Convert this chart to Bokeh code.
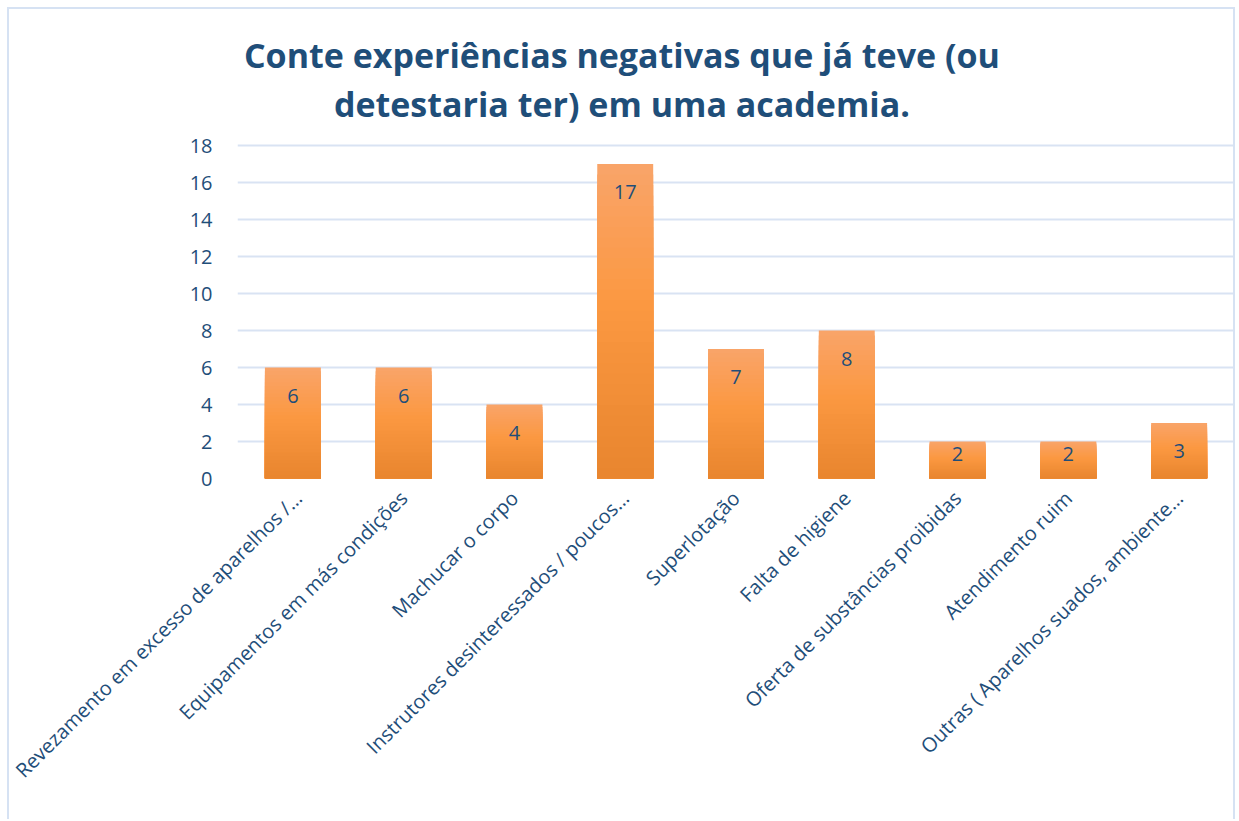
from bokeh.plotting import figure
from bokeh.models import Label
from bokeh.core.properties import value
from bokeh.embed import file_html
from bokeh.resources import INLINE
import math

categories = [
    "Revezamento em excesso de aparelhos /…",
    "Equipamentos em más condições",
    "Machucar o corpo",
    "Instrutores desinteressados / poucos…",
    "Superlotação",
    "Falta de higiene",
    "Oferta de substâncias proibidas",
    "Atendimento ruim",
    "Outras ( Aparelhos suados, ambiente…",
]
counts = [6, 6, 4, 17, 7, 8, 2, 2, 3]
y_ticks = [0, 2, 4, 6, 8, 10, 12, 14, 16, 18]
title_lines = ["Conte experiências negativas que já teve (ou",
               "detestaria ter) em uma academia."]

TEXT = "#1F4E79"
FONT = "Open Sans"

PX_PER_UNIT = 18.5
FRAME_H = 469
Y_END = FRAME_H / PX_PER_UNIT

p = figure(x_range=categories, y_range=(0, Y_END), width=1228, height=812,
           output_backend="svg", toolbar_location=None,
           min_border_left=228, min_border_top=0, min_border_right=3,
           min_border_bottom=343)
p.styles = {"border-top": "2px solid #D6E2F3", "border-left": "2px solid #D6E2F3",
            "border-right": "2px solid #D6E2F3", "margin-left": "7px", "margin-top": "7px"}
p.outline_line_color = None
p.background_fill_color = "white"
p.border_fill_color = "white"

# gradient bars: overlapping slices computed from the values (largest first)
stops = [(0.0, (232, 133, 46)), (0.55, (251, 152, 65)), (1.0, (249, 164, 105))]
def grad(t):
    for (t0, c0), (t1, c1) in zip(stops[:-1], stops[1:]):
        if t <= t1:
            f = (t - t0) / (t1 - t0)
            return "#%02x%02x%02x" % tuple(int(round(a + (b - a) * f)) for a, b in zip(c0, c1))
    return "#%02x%02x%02x" % stops[-1][1]

N = 30
xs, tops, cols = [], [], []
for k in range(N - 1, -1, -1):
    for c, v in zip(categories, counts):
        xs.append(c)
        tops.append(v * (k + 1) / N)
        cols.append(grad((k + 0.5) / N))
p.vbar(x=xs, bottom=0, top=tops, width=0.505, color=cols, line_color=None)

# data labels inside the bar end
for c, v in zip(categories, counts):
    off = min(28, v * PX_PER_UNIT - 25)
    p.text(x=[c], y=[v], text=[str(v)], text_align="center", text_baseline="middle",
           y_offset=off, text_color=TEXT, text_font=value(FONT), text_font_size="20px")

p.xgrid.grid_line_color = None
p.ygrid.grid_line_color = "#D9E3F3"
p.ygrid.grid_line_width = 2
p.yaxis.ticker = y_ticks
p.ygrid.ticker = y_ticks
p.yaxis.axis_line_color = None
p.yaxis.major_tick_line_color = None
p.yaxis.minor_tick_line_color = None
p.yaxis.major_label_standoff = 19
p.yaxis.major_label_text_font = FONT
p.yaxis.major_label_text_font_size = "20px"
p.yaxis.major_label_text_color = TEXT

p.xaxis.axis_line_color = None
p.xaxis.major_tick_line_color = None
p.xaxis.major_label_orientation = math.pi / 4
p.xaxis.major_label_standoff = 10
p.xaxis.major_label_text_font = FONT
p.xaxis.major_label_text_font_size = "20px"
p.xaxis.major_label_text_color = TEXT

# title, two centred lines
title_x = 3.47
for txt, px in zip(title_lines, [54, 103]):
    yy = (478 - px) / PX_PER_UNIT
    p.add_layout(Label(x=title_x, y=yy, text=txt, text_align="center",
                       text_baseline="alphabetic", text_font=FONT,
                       text_font_style="bold", text_font_size="34px",
                       text_color=TEXT))

open("out.html", "w").write(file_html(p, INLINE))
